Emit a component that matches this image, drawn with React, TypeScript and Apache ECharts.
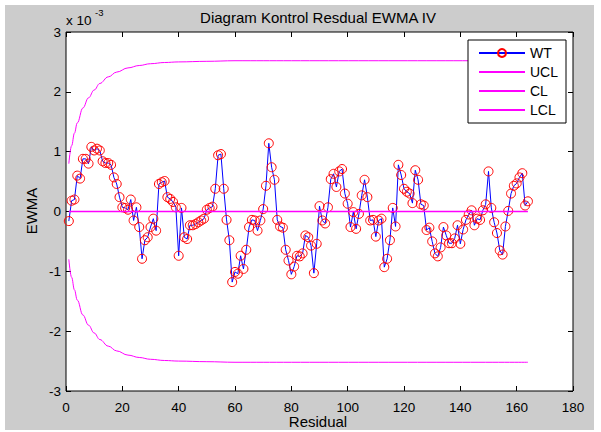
import React, { useEffect, useRef } from "react";
import * as echarts from "echarts";

const TITLE = "Diagram Kontrol Resdual EWMA IV";
const X_NAME = "Residual";
const Y_NAME = "EWMA";
const SCALE_BASE = "x 10";
const SCALE_EXP = "-3";

// EWMA statistic (units of 1e-3) for residual index 1..164
const WT = [
  -0.16, 0.18, 0.2, 0.6, 0.55, 0.88, 0.88, 0.8, 1.08, 1.02,
  1.05, 1.02, 0.84, 0.81, 0.81, 0.78, 0.57, 0.46, 0.24, 0.07,
  0.06, 0.03, 0.2, -0.15, 0.07, -0.26, -0.79, -0.48, -0.43, -0.26,
  -0.12, -0.32, 0.46, 0.49, 0.51, 0.24, 0.21, 0.16, 0.07, -0.74,
  0.06, -0.43, -0.46, -0.23, -0.23, -0.21, -0.18, -0.15, -0.12, 0.03,
  0.06, 0.08, 0.38, 0.94, 0.96, 0.38, -0.14, -0.48, -1.18, -1.01,
  -1.04, -0.74, -0.96, -0.64, -0.26, -0.14, -0.15, -0.32, -0.15, 0.04,
  0.43, 1.14, 0.74, 0.53, -0.14, -0.25, -0.27, -0.64, -0.82, -1.05,
  -0.92, -0.74, -0.75, -0.7, -0.4, -0.43, -0.57, -1.03, -0.54, 0.09,
  -0.15, -0.2, 0.07, 0.54, 0.63, 0.41, 0.67, 0.71, 0.3, 0.13,
  -0.26, -0.01, -0.29, -0.04, 0.27, 0.53, 0.24, -0.15, -0.14, -0.42,
  -0.15, -0.12, -0.93, -0.79, -0.48, 0.06, -0.25, 0.78, 0.61, 0.38,
  0.33, 0.3, 0.14, 0.69, 0.53, 0.12, 0.1, -0.31, -0.27, -0.5,
  -0.7, -0.75, -0.6, -0.26, -0.4, -0.53, -0.53, -0.45, -0.23, -0.54,
  -0.3, -0.14, -0.05, 0.02, -0.23, -0.12, -0.14, 0.02, 0.12, 0.67,
  0.06, -0.18, -0.36, -0.65, -0.72, -0.25, 0.01, 0.3, 0.43, 0.47,
  0.57, 0.64, 0.1, 0.17,
];

// Control limits (units of 1e-3)
const LIMIT_X = [1, 2, 3, 4, 6, 8, 10, 12, 15, 18, 22, 26, 30, 35, 40, 50, 60, 80, 164];
const UCL_Y = [0.8, 1.1, 1.31, 1.48, 1.73, 1.9, 2.03, 2.14, 2.25, 2.33, 2.4, 2.44, 2.47, 2.49, 2.5, 2.51, 2.52, 2.52, 2.52];
const LCL_Y = [-0.8, -1.1, -1.31, -1.48, -1.73, -1.9, -2.03, -2.14, -2.25, -2.33, -2.4, -2.44, -2.47, -2.49, -2.5, -2.51, -2.52, -2.52, -2.52];
const CL_X = [1, 164];
const CL_Y = [0, 0];

const X_MIN = 0, X_MAX = 180, X_STEP = 20;
const Y_MIN = -3, Y_MAX = 3, Y_STEP = 1;

const FONT = "'Liberation Sans', Arial, Helvetica, sans-serif";

export default function App() {
  const ref = useRef<HTMLDivElement>(null);
  useEffect(() => {
    if (!ref.current) return;
    const chart = echarts.init(ref.current, null, { renderer: "svg" });
    const wt = WT.map((v, i) => [i + 1, v]);
    const ucl = LIMIT_X.map((x, i) => [x, UCL_Y[i]]);
    const lcl = LIMIT_X.map((x, i) => [x, LCL_Y[i]]);
    const cl = CL_X.map((x, i) => [x, CL_Y[i]]);
    const tickCommon = { show: true, inside: true, length: 5, lineStyle: { color: "#000", width: 1 } };
    const axisLineCommon = { show: false, onZero: false };
    const labelCommon = { color: "#000", fontSize: 13.5, fontFamily: FONT };
    const magenta = "#ff00ff";
    const noSymbol = { color: "rgba(0,0,0,0)", borderColor: "rgba(0,0,0,0)", borderWidth: 0 };
    chart.setOption({
      animation: false,
      backgroundColor: "transparent",
      grid: {
        left: 66, top: 32, width: 507, height: 359,
        show: true, backgroundColor: "#ffffff", borderColor: "#000", borderWidth: 1,
      },
      xAxis: [
        {
          type: "value", min: X_MIN, max: X_MAX, interval: X_STEP, position: "bottom",
          axisLine: axisLineCommon, axisTick: tickCommon, splitLine: { show: false },
          axisLabel: { ...labelCommon, margin: 9 },
        },
        {
          type: "value", min: X_MIN, max: X_MAX, interval: X_STEP, position: "top",
          axisLine: axisLineCommon, axisTick: tickCommon, splitLine: { show: false },
          axisLabel: { show: false },
        },
      ],
      yAxis: [
        {
          type: "value", min: Y_MIN, max: Y_MAX, interval: Y_STEP, position: "left",
          axisLine: axisLineCommon, axisTick: tickCommon, splitLine: { show: false },
          axisLabel: { ...labelCommon, margin: 5 },
        },
        {
          type: "value", min: Y_MIN, max: Y_MAX, interval: Y_STEP, position: "right",
          axisLine: axisLineCommon, axisTick: tickCommon, splitLine: { show: false },
          axisLabel: { show: false },
        },
      ],
      legend: {
        orient: "vertical", left: 468, top: 40,
        itemWidth: 46, itemHeight: 10, itemGap: 5,
        padding: [6, 8, 6, 10],
        borderColor: "#000", borderWidth: 1, backgroundColor: "#fff",
        textStyle: { color: "#000", fontSize: 14, fontFamily: FONT },
        data: [
          { name: "WT" },
          { name: "UCL", itemStyle: noSymbol },
          { name: "CL", itemStyle: noSymbol },
          { name: "LCL", itemStyle: noSymbol },
        ],
      },
      graphic: [
        {
          type: "text", x: 318, y: 17,
          style: { text: TITLE, fontSize: 15, fontFamily: FONT, fill: "#000", align: "center", verticalAlign: "middle" },
        },
        {
          type: "text", x: 318, y: 421,
          style: { text: X_NAME, fontSize: 15, fontFamily: FONT, fill: "#000", align: "center", verticalAlign: "middle" },
        },
        {
          type: "text", x: 31, y: 211, rotation: Math.PI / 2,
          style: { text: Y_NAME, fontSize: 15, fontFamily: FONT, fill: "#000", align: "center", verticalAlign: "middle" },
        },
        {
          type: "text", x: 66, y: 20,
          style: { text: SCALE_BASE, fontSize: 13.5, fontFamily: FONT, fill: "#000", align: "left", verticalAlign: "middle" },
        },
        {
          type: "text", x: 95, y: 12,
          style: { text: SCALE_EXP, fontSize: 9.5, fontFamily: FONT, fill: "#000", align: "left", verticalAlign: "middle" },
        },
      ],
      series: [
        {
          name: "WT", type: "line", data: wt, xAxisIndex: 0, yAxisIndex: 0, z: 2,
          symbol: "circle", symbolSize: 9, showAllSymbol: true,
          itemStyle: { color: "rgba(255,255,255,0)", borderColor: "#ff0000", borderWidth: 1 },
          lineStyle: { color: "#0000ff", width: 1 },
          emphasis: { disabled: true }, silent: true,
        },
        {
          name: "UCL", type: "line", data: ucl, symbol: "none", smooth: 0.4, smoothMonotone: "x", z: 3,
          color: magenta, lineStyle: { color: magenta, width: 1 }, itemStyle: { color: magenta }, silent: true,
        },
        {
          name: "CL", type: "line", data: cl, symbol: "none", z: 4,
          color: magenta, lineStyle: { color: magenta, width: 1.5, opacity: 1 }, silent: true,
        },
        {
          name: "LCL", type: "line", data: lcl, symbol: "none", smooth: 0.4, smoothMonotone: "x", z: 3,
          color: magenta, lineStyle: { color: magenta, width: 1 }, itemStyle: { color: magenta }, silent: true,
        },
      ],
    });
    return () => chart.dispose();
  }, []);

  return (
    <div style={{ position: "fixed", left: 0, top: 0, width: 601, height: 432, background: "#ffffff" }}>
      <div style={{ position: "absolute", left: 5, top: 5, width: 589, height: 425, background: "#cccccc" }} />
      <div ref={ref} style={{ position: "absolute", left: 0, top: 0, width: 601, height: 432 }} />
    </div>
  );
}
